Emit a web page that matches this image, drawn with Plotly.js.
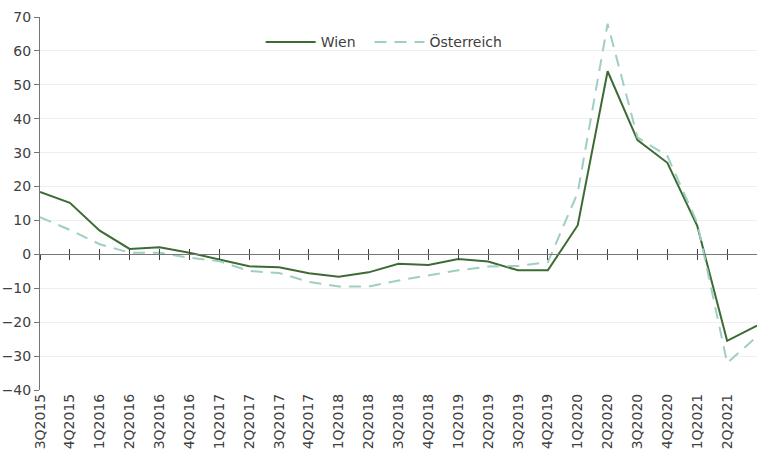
<!DOCTYPE html>
<html><head><meta charset="utf-8">
<script src="https://cdn.plot.ly/plotly-3.0.1.min.js"></script>
<style>html,body{margin:0;padding:0;background:#fff}#chart{width:757px;height:455px}</style>
</head><body><div id="chart"></div>
<script>
const categories = ["3Q2015","4Q2015","1Q2016","2Q2016","3Q2016","4Q2016","1Q2017","2Q2017","3Q2017","4Q2017","1Q2018","2Q2018","3Q2018","4Q2018","1Q2019","2Q2019","3Q2019","4Q2019","1Q2020","2Q2020","3Q2020","4Q2020","1Q2021","2Q2021","3Q2021"];
const wien = [18.4,15.2,7.0,1.6,2.1,0.5,-1.5,-3.5,-3.8,-5.6,-6.6,-5.3,-2.8,-3.1,-1.4,-2.1,-4.7,-4.7,8.6,54.0,33.7,27.0,8.4,-25.5,-21.0];
const oesterreich = [11.0,7.2,3.0,0.5,0.5,-1.0,-2.0,-4.9,-5.5,-8.1,-9.5,-9.5,-7.7,-6.2,-4.7,-3.6,-3.4,-2.3,18.2,68.0,34.5,29.0,9.3,-32.0,-24.2];
const yTicks = [-40,-30,-20,-10,0,10,20,30,40,50,60,70];

const font = {family: "DejaVu Sans, sans-serif", size: 14, color: "#404040"};
const idx = categories.map((c,i)=>i);
const data = [
  {x: idx, y: wien, name: "Wien\u00a0\u00a0", type: "scatter", mode: "lines", line: {color: "#3d6b34", width: 2}},
  {x: idx, y: oesterreich, name: "Österreich", type: "scatter", mode: "lines", line: {color: "#9fcfc1", width: 2, dash: "12px,8px"}},
  {x: idx, y: wien, xaxis: "x2", type: "scatter", mode: "lines", opacity: 0, showlegend: false, hoverinfo: "skip"},
  {x: idx, y: wien, xaxis: "x3", type: "scatter", mode: "lines", opacity: 0, showlegend: false, hoverinfo: "skip"}
];
const yr = [-40,70];
const zeroPos = (0 - yr[0]) / (yr[1] - yr[0]);
const xr = [0, 24];
const layout = {
  width: 757, height: 455,
  margin: {l: 40, r: 0, t: 17, b: 65},
  paper_bgcolor: "#fff", plot_bgcolor: "#fff",
  font: font,
  showlegend: true,
  legend: {orientation: "h", x: 0.48, xanchor: "center", y: 0.975, yanchor: "top", itemwidth: 50, font: {family: font.family, size: 14, color: "#404040"}, bgcolor: "rgba(0,0,0,0)"},
  xaxis: {range: xr, tickmode: "array", tickvals: idx, ticktext: categories, tickangle: -90, showgrid: false, zeroline: false, showline: false, ticks: "", tickfont: {size: 14, color: "#404040"}},
  xaxis2: {overlaying: "x", anchor: "free", position: zeroPos, range: xr, tickmode: "array", tickvals: idx, showticklabels: false, showgrid: false, zeroline: false, showline: true, linecolor: "#767676", linewidth: 1, ticks: "outside", ticklen: 5, tickcolor: "#404040"},
  xaxis3: {overlaying: "x", anchor: "free", position: zeroPos, range: xr, tickmode: "array", tickvals: idx, showticklabels: false, showgrid: false, zeroline: false, showline: false, ticks: "inside", ticklen: 5, tickcolor: "#404040"},
  yaxis: {range: yr, tickmode: "array", tickvals: yTicks, showgrid: true, gridcolor: "#efefef", gridwidth: 1, zeroline: false, showline: true, linecolor: "#767676", linewidth: 1, ticks: "outside", ticklen: 5, tickcolor: "#767676", tickfont: {size: 14, color: "#404040"}}
};
Plotly.newPlot("chart", data, layout, {displayModeBar: false, staticPlot: true});
</script></body></html>
